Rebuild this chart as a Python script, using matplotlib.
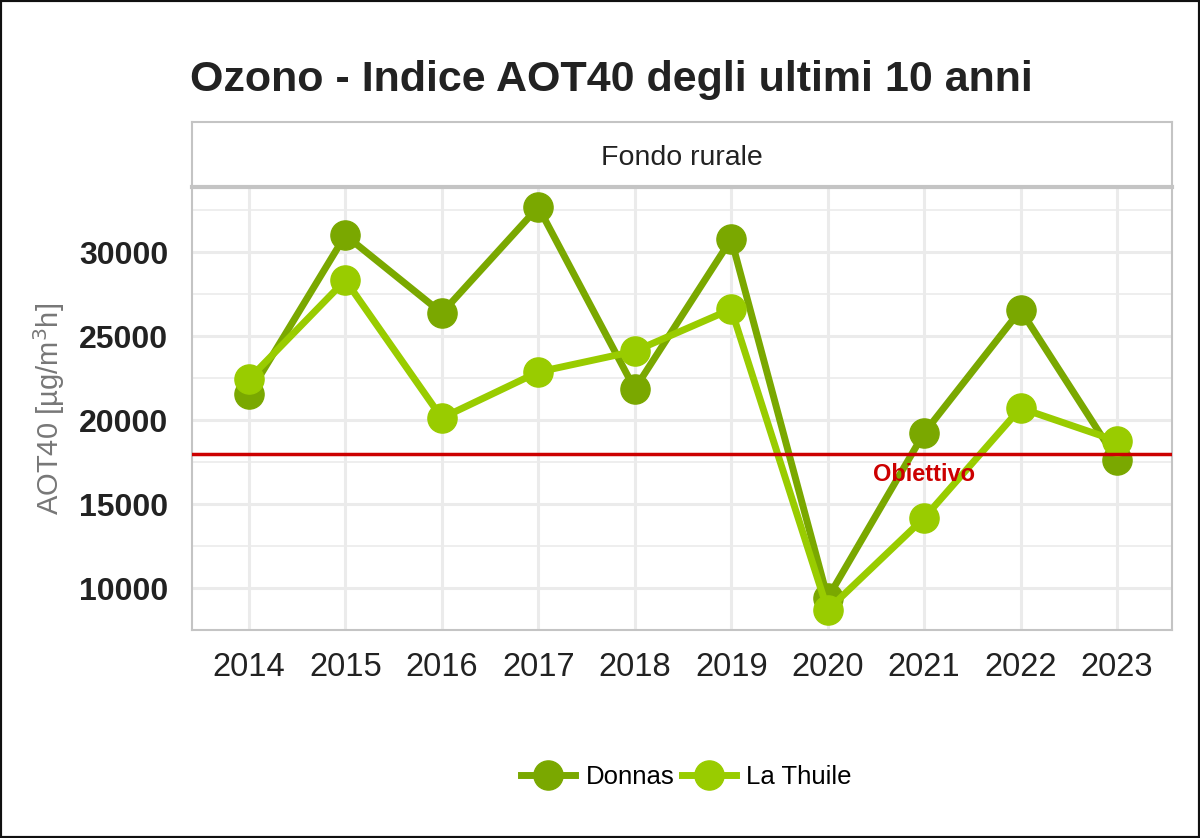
import matplotlib
matplotlib.use('Agg')
from matplotlib import pyplot as plt
from matplotlib.patches import Rectangle
from matplotlib.ticker import MultipleLocator

plt.rcParams['font.family'] = ['Liberation Sans', 'DejaVu Sans']

years = [2014, 2015, 2016, 2017, 2018, 2019, 2020, 2021, 2022, 2023]
donnas = [21550, 31000, 26370, 32680, 21850, 30770, 9400, 19230, 26550, 17620]
la_thuile = [22440, 28330, 20120, 22860, 24100, 26600, 8690, 14170, 20710, 18750]
obiettivo = 18000

col_donnas = '#7aa800'
col_thuile = '#99cc00'

fig = plt.figure(figsize=(12, 8.38), dpi=100)
ax = fig.add_axes([0.16, 0.2482, 0.8167, 0.5286])

ax.plot(years, donnas, color=col_donnas, lw=5, marker='o', ms=21, label='Donnas', zorder=3)
ax.plot(years, la_thuile, color=col_thuile, lw=5, marker='o', ms=21, label='La Thuile', zorder=4)
ax.axhline(obiettivo, color='#cc0000', lw=2.5, zorder=5)
ax.text(2021, obiettivo - 550, 'Obiettivo', color='#cc0000', fontsize=17, fontweight='bold',
        ha='center', va='top', zorder=6)

ax.set_xlim(2013.41, 2023.57)
ax.set_ylim(7500, 33870)
ax.set_xticks(years)
ax.yaxis.set_major_locator(MultipleLocator(5000))
ax.yaxis.set_minor_locator(MultipleLocator(2500))
ax.grid(True, which='major', color='#ebebeb', lw=2.2, zorder=0)
ax.grid(True, which='minor', axis='y', color='#ebebeb', lw=1.2, zorder=0)
ax.set_axisbelow(True)
ax.tick_params(which='both', length=0)
ax.tick_params(axis='x', labelsize=23.5, pad=16, labelcolor='#222222')
ax.tick_params(axis='y', labelsize=23, pad=17, labelcolor='#222222')
for lab in ax.get_yticklabels():
    lab.set_fontweight('bold')
for s in ax.spines.values():
    s.set_color('#c4c4c4')
    s.set_linewidth(1.5)

ax.set_ylabel('AOT40 [µg/m$^{3}$h]', fontsize=21, color='#777777', labelpad=9)

# strip
strip = fig.add_axes([0.16, 0.7768, 0.8167, 0.0776])
strip.set_xticks([])
strip.set_yticks([])
for s in strip.spines.values():
    s.set_color('#c4c4c4')
    s.set_linewidth(1.5)
strip.spines['bottom'].set_linewidth(3)
strip.text(0.5, 0.45, 'Fondo rurale', fontsize=20.5, color='#222222', ha='center', va='center',
           transform=strip.transAxes)

fig.text(0.158, 0.904, 'Ozono - Indice AOT40 degli ultimi 10 anni', fontsize=31,
         fontweight='bold', color='#222222', ha='left', va='center')

fig.legend(loc='center', bbox_to_anchor=(0.572, 0.073), ncol=2, frameon=False, fontsize=18.5,
           handlelength=2.1, columnspacing=0.3, handletextpad=0.4, markerscale=1.0)

fig.patches.append(Rectangle((0, 0), 1, 1, transform=fig.transFigure, fill=False,
                             edgecolor='#111111', lw=3))

fig.savefig('out.png', dpi=100)
